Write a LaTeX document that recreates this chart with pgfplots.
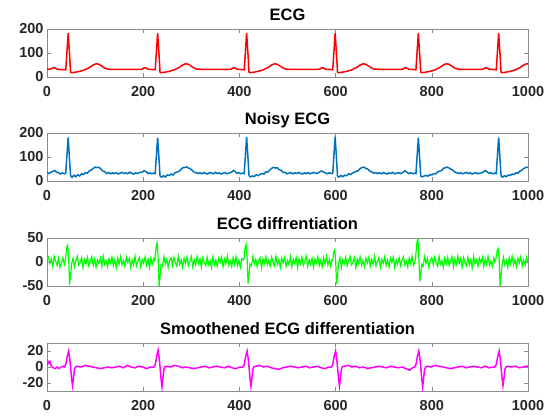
\documentclass[border=0pt]{standalone}
\usepackage{pgfplots}
\pgfplotsset{compat=1.18}
\usepackage{fontspec}
\setmainfont{Liberation Sans}
\definecolor{mblue}{rgb}{0,0.447,0.741}
\definecolor{mred}{rgb}{1,0,0}
\definecolor{mgreen}{rgb}{0,1,0}
\definecolor{mmag}{rgb}{1,0,1}
\definecolor{axgray}{gray}{0.55}
\definecolor{lblgray}{gray}{0.15}
\pgfplotsset{
  ecgax/.style={
    scale only axis, width=481pt, height=48pt,
    anchor=south west,
    xmin=0, xmax=1000, xtick={0,200,400,600,800,1000},
    tick align=inside, major tick length=4pt,
    axis line style={draw=axgray, line width=0.6pt},
    every tick/.style={draw=axgray, line width=0.6pt},
    tick label style={font=\bfseries\fontsize{14.5}{14.5}\selectfont, text=lblgray},
    /pgf/number format/assume math mode=true,
    /pgf/number format/set thousands separator={},
    scaled ticks=false,
    xticklabel style={yshift=-6pt},
    title style={font=\bfseries\fontsize{16.5}{16.5}\selectfont, text=black, text depth=0pt, yshift=-1pt},
  }
}
\begin{document}
\begin{tikzpicture}
\path[use as bounding box] (0,0) rectangle (552pt,416pt);
% ---------------- ECG
\begin{axis}[ecgax, at={(47pt,339pt)}, ymin=0, ymax=200, ytick={0,100,200}, title={ECG}]
\addplot[mred, line width=1.5pt] coordinates {
(0,33) (4,32) (10,35) (13,38) (16,38) (19,35) (22,32) (30,31) (36,31) (39,30) (41,90) (44,183) (47,90) (49,20) (51,18) (59,20) (69,24) (79,30) (89,40) (96,50) (102,55) (108,53) (114,45) (120,37) (126,33) (134,32) (160,32) (190,32)
(196,32) (199,34) (202,38) (205,38) (208,35) (211,32) (222,31) (225,30) (227,90) (230,183) (233,90) (235,20) (237,18) (245,20) (255,24) (265,30) (275,40) (282,50) (288,55) (294,53) (300,45) (306,37) (312,33) (320,32) (350,32) (375,32)
(381,32) (384,34) (387,38) (390,38) (393,35) (396,32) (407,31) (410,30) (412,90) (415,183) (418,90) (420,20) (422,18) (430,20) (440,24) (450,30) (460,40) (467,50) (473,55) (479,53) (485,45) (491,37) (497,33) (505,32) (535,32) (559,32)
(565,32) (568,34) (571,38) (574,38) (577,35) (580,32) (591,31) (594,30) (596,90) (599,183) (602,90) (604,20) (606,18) (614,20) (624,24) (634,30) (644,40) (651,50) (657,55) (663,53) (669,45) (675,37) (681,33) (689,32) (715,32) (732,32)
(738,32) (741,34) (744,38) (747,38) (750,35) (753,32) (764,31) (767,30) (769,90) (772,183) (775,90) (777,20) (779,18) (787,20) (797,24) (807,30) (817,40) (824,50) (830,55) (836,53) (842,45) (848,37) (854,33) (862,32) (885,32) (899,32)
(905,32) (908,34) (911,38) (914,38) (917,35) (920,32) (931,31) (934,30) (936,90) (939,183) (942,90) (944,20) (946,18) (954,20) (964,24) (974,30) (984,40) (991,50) (997,55) (1000,55)
};
\end{axis}
% ---------------- Noisy ECG
\begin{axis}[ecgax, at={(47pt,235pt)}, ymin=0, ymax=200, ytick={0,100,200}, title={Noisy ECG}]
\addplot[mblue, line width=1.5pt] coordinates {
(0,36) (4,31) (8,37) (12,40) (16,44) (20,36) (24,35) (28,29) (32,34) (36,30) (39,33) (41,95) (44,182) (47,85) (49,22) (52,15) (56,24) (60,18) (64,26) (68,21) (72,30) (76,27) (80,35) (84,33) (88,42) (92,46) (96,52) (100,58) (104,56) (108,57) (112,50) (116,41) (120,39) (124,31) (128,35) (132,30) (136,34) (140,31) (144,35) (148,29) (152,33) (156,36) (160,31) (164,34) (168,30) (172,37) (176,32) (180,29) (184,34) (188,31) (192,35) (198,37) (202,43) (206,39) (210,31) (214,34) (218,30) (222,33) (225,31) (227,92) (230,181) (233,88) (235,21) (238,16) (242,22) (246,17) (250,25) (254,23) (258,29) (262,25) (266,34) (270,37) (274,40) (278,47) (282,55) (286,56) (290,59) (294,54) (298,51) (302,44) (306,36) (310,35) (314,31) (318,34) (322,30) (326,35) (330,32) (334,29) (338,35) (342,33) (346,30) (350,36) (354,31) (358,34) (362,29) (366,33) (370,35) (374,30) (378,33) (383,36) (387,44) (391,40) (395,32) (399,35) (403,30) (407,33) (410,31) (412,93) (415,184) (418,90) (420,22) (423,17) (427,21) (431,19) (435,26) (439,22) (443,28) (447,31) (451,29) (455,38) (459,37) (463,45) (467,53) (471,57) (475,54) (479,55) (483,47) (487,44) (491,35) (495,36) (499,30) (503,33) (507,35) (511,30) (515,34) (519,31) (523,36) (527,32) (531,29) (535,34) (539,31) (543,35) (547,30) (551,33) (555,36) (559,31) (563,33) (567,38) (571,42) (575,37) (579,34) (583,30) (587,34) (591,31) (594,32) (596,91) (599,185) (602,89) (604,20) (607,16) (611,23) (615,18) (619,24) (623,22) (627,30) (631,27) (635,33) (639,36) (643,41) (647,43) (651,52) (655,56) (659,58) (663,52) (667,50) (671,41) (675,38) (679,32) (683,35) (687,31) (691,34) (695,30) (699,35) (703,32) (707,29) (711,34) (715,31) (719,36) (723,30) (727,33) (731,35) (735,31) (740,36) (744,43) (748,37) (752,31) (756,34) (760,30) (764,33) (767,31) (769,90) (772,180) (775,88) (777,21) (780,17) (784,21) (788,23) (792,20) (796,27) (800,25) (804,31) (808,30) (812,37) (816,41) (820,43) (824,53) (828,55) (832,58) (836,54) (840,49) (844,45) (848,36) (852,35) (856,31) (860,34) (864,30) (868,33) (872,36) (876,31) (880,34) (884,29) (888,33) (892,35) (896,30) (900,33) (904,34) (907,37) (911,44) (915,38) (919,32) (923,34) (927,30) (931,33) (934,31) (936,91) (939,182) (942,87) (944,21) (947,16) (951,22) (955,18) (959,25) (963,23) (967,29) (971,27) (975,34) (979,33) (983,41) (987,45) (991,52) (995,56) (1000,58)
};
\end{axis}
% ---------------- ECG diffrentiation
\begin{axis}[ecgax, at={(47pt,130pt)}, ymin=-50, ymax=50, ytick={-50,0,50}, title={ECG diffrentiation}]
\addplot[mgreen, line width=1.2pt] coordinates {
(0,4) (3,10) (6,-3) (9,6) (12,-9) (15,12) (18,2) (21,-7) (24,8) (27,-11) (30,-2) (33,9) (36,-5)
(38,2) (41,30) (43,35) (45,8) (47,-47) (49,-28) (51,-5)
(54,8) (57,-10) (60,3) (63,12) (66,-6) (69,-1) (72,9) (75,-12) (78,5) (81,-4) (84,10) (87,-8) (90,1) (93,11) (96,-7) (99,6) (102,-11) (105,4) (108,-3) (111,9) (114,-9) (117,12) (120,-5) (123,2) (126,-10) (129,7) (132,-2) (135,10) (138,-8) (141,5) (144,-12) (147,8) (150,-4) (153,11) (156,-6) (159,3) (162,-9) (165,10) (168,-1) (171,7) (174,-11) (177,4) (180,-6) (183,12) (186,-8) (189,2) (192,9) (195,-10) (198,5) (201,-3) (204,11) (207,-7) (210,6) (213,-12) (216,8) (219,-4) (222,7)
(224,3) (227,32) (229,40) (231,10) (233,-50) (235,-30) (237,-6)
(240,-9) (243,11) (246,-4) (249,6) (252,-12) (255,3) (258,9) (261,-7) (264,10) (267,-2) (270,-9) (273,12) (276,-5) (279,4) (282,-11) (285,8) (288,-3) (291,10) (294,-8) (297,1) (300,11) (303,-10) (306,5) (309,-6) (312,12) (315,-3) (318,7) (321,-11) (324,9) (327,-2) (330,-8) (333,10) (336,-5) (339,3) (342,-12) (345,11) (348,-6) (351,4) (354,-9) (357,8) (360,-1) (363,10) (366,-10) (369,6) (372,-4) (375,12) (378,-7) (381,2) (384,-9) (387,9) (390,-5) (393,11) (396,-8) (399,3) (402,-11) (405,7)
(409,4) (412,30) (414,36) (416,9) (418,-45) (420,-28) (422,-4)
(425,-8) (428,12) (431,-4) (434,6) (437,-10) (440,2) (443,9) (446,-12) (449,7) (452,-3) (455,11) (458,-6) (461,4) (464,-9) (467,10) (470,-1) (473,-8) (476,12) (479,-5) (482,5) (485,-11) (488,8) (491,-2) (494,10) (497,-9) (500,3) (503,-6) (506,11) (509,-10) (512,6) (515,-3) (518,9) (521,-12) (524,7) (527,-4) (530,10) (533,-7) (536,2) (539,12) (542,-9) (545,4) (548,-5) (551,8) (554,-11) (557,6) (560,-2) (563,11) (566,-8) (569,3) (572,-10) (575,9) (578,-4) (581,12) (584,-6) (587,5) (590,-9) (592,4)
(594,3) (596,20) (598,25) (600,6) (602,-46) (604,-29) (606,-5)
(609,9) (612,-11) (615,5) (618,-3) (621,10) (624,-8) (627,2) (630,12) (633,-6) (636,-1) (639,9) (642,-12) (645,6) (648,-4) (651,11) (654,-7) (657,3) (660,-10) (663,8) (666,-2) (669,10) (672,-9) (675,5) (678,-5) (681,12) (684,-8) (687,1) (690,9) (693,-11) (696,6) (699,-3) (702,11) (705,-7) (708,4) (711,-10) (714,8) (717,-1) (720,10) (723,-12) (726,5) (729,-4) (732,9) (735,-8) (738,3) (741,11) (744,-6) (747,2) (750,-10) (753,8) (756,-3) (759,12) (762,-7) (764,-2)
(766,6) (769,40) (771,50) (773,12) (775,-40) (777,-25) (779,-5)
(782,-9) (785,11) (788,-3) (791,7) (794,-12) (797,4) (800,9) (803,-6) (806,10) (809,-2) (812,-9) (815,12) (818,-5) (821,3) (824,-11) (827,8) (830,-4) (833,10) (836,-7) (839,1) (842,11) (845,-10) (848,6) (851,-5) (854,12) (857,-3) (860,7) (863,-11) (866,9) (869,-1) (872,-8) (875,10) (878,-6) (881,4) (884,-12) (887,11) (890,-4) (893,5) (896,-9) (899,8) (902,-2) (905,10) (908,-10) (911,6) (914,-5) (917,12) (920,-7) (923,2) (926,-9) (929,9) (931,0)
(933,5) (936,24) (938,28) (940,7) (942,-50) (944,-30) (946,-6)
(949,10) (952,-7) (955,3) (958,-11) (961,9) (964,-4) (967,12) (970,-6) (973,5) (976,-10) (979,8) (982,-2) (985,11) (988,-9) (991,4) (994,-6) (997,10) (1000,-3)
};
\end{axis}
% ---------------- Smoothened ECG differentiation
\begin{axis}[ecgax, at={(47pt,25pt)}, ymin=-30, ymax=30, ytick={-20,0,20}, title={Smoothened ECG differentiation}]
\addplot[mmag, line width=1.5pt] coordinates {
(0,2) (2,7) (4,5) (6,7) (9,1) (13,-1) (17,-2) (21,0) (25,-2) (29,0) (33,1) (36,0) (39,3) (42,13) (45,20) (47,12) (49,0) (51,-14) (53,-23) (55,-14) (57,-3) (59,0)
(63,1) (71,0) (79,2) (87,1) (95,0) (103,-1) (111,-2) (119,-1) (127,0) (135,-1) (143,0) (151,1) (159,-1) (167,2) (175,0) (183,-1) (191,1) (199,0) (207,-2) (215,0) (222,0)
(225,3) (228,13) (231,21) (233,12) (235,0) (237,-14) (239,-25) (241,-14) (243,-3) (245,0)
(249,1) (257,0) (265,2) (273,1) (281,-1) (289,0) (297,-1) (305,-2) (313,-1) (321,0) (329,1) (337,-1) (345,0) (353,1) (361,0) (369,-1) (377,1) (385,-1) (393,-2) (401,0) (407,0)
(410,3) (413,13) (416,20) (418,12) (420,0) (422,-14) (424,-24) (426,-14) (428,-3) (430,0)
(434,1) (442,2) (450,0) (458,1) (466,-1) (474,-2) (482,-3) (490,-1) (498,0) (506,1) (514,0) (522,-1) (530,0) (538,1) (546,-1) (554,0) (562,1) (570,-1) (578,-2) (586,0) (591,0)
(594,3) (597,13) (600,20) (602,12) (604,0) (606,-14) (608,-24) (610,-14) (612,-3) (614,0)
(618,1) (626,2) (634,0) (642,1) (650,-1) (658,0) (666,-2) (674,-1) (682,0) (690,1) (698,0) (706,-1) (714,1) (722,0) (730,-1) (738,0) (746,-2) (754,-4) (760,-1) (764,0)
(767,3) (770,13) (773,20) (775,12) (777,0) (779,-14) (781,-25) (783,-14) (785,-3) (787,0)
(791,1) (799,0) (807,2) (815,1) (823,0) (831,-1) (839,-2) (847,-1) (855,0) (863,1) (871,-1) (879,0) (887,1) (895,0) (903,-1) (911,1) (919,-1) (927,0) (931,0)
(934,3) (937,13) (940,20) (942,12) (944,0) (946,-14) (948,-23) (950,-14) (952,-3) (954,0)
(958,1) (966,0) (974,1) (982,-1) (990,0) (996,1) (1000,1)
};
\end{axis}
\end{tikzpicture}
\end{document}
